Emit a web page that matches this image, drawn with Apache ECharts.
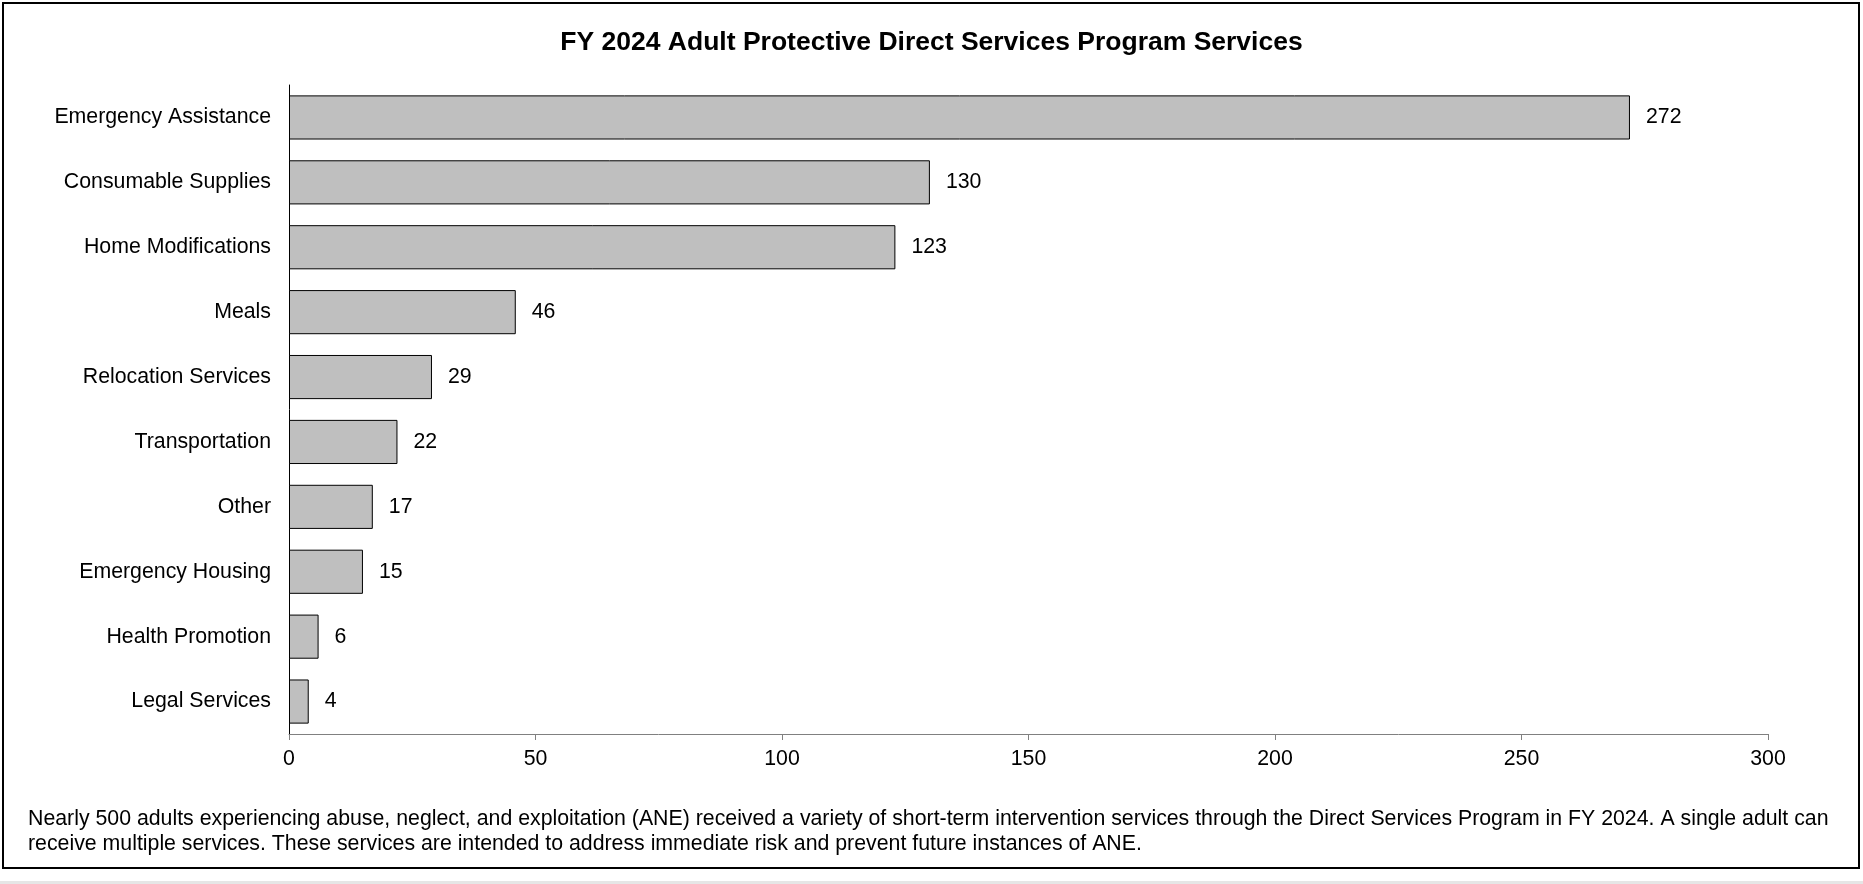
<!DOCTYPE html>
<html><head><meta charset="utf-8">
<script src="https://cdn.jsdelivr.net/npm/echarts@6/dist/echarts.min.js"></script>
<style>html,body{margin:0;padding:0;background:#fff}#c{width:1863px;height:884px}</style>
</head><body><div id="c"></div>
<script>
const categories = ["Emergency Assistance","Consumable Supplies","Home Modifications","Meals","Relocation Services","Transportation","Other","Emergency Housing","Health Promotion","Legal Services"];
const values = [272,130,123,46,29,22,17,15,6,4];
const xTicks = [0,50,100,150,200,250,300];
const titleText = "FY 2024 Adult Protective Direct Services Program Services";
const noteLines = ["Nearly 500 adults experiencing abuse, neglect, and exploitation (ANE) received a variety of short-term intervention services through the Direct Services Program in FY 2024. A single adult can",
"receive multiple services. These services are intended to address immediate risk and prevent future instances of ANE."];

const FONT = '"Liberation Sans", Arial, sans-serif';
const chart = echarts.init(document.getElementById('c'), null, {renderer:'canvas'});
chart.setOption({
  animation:false,
  backgroundColor:'#fff',
  title:{text:titleText,left:'center',top:24,textStyle:{fontFamily:FONT,fontSize:26.5,fontWeight:'bold',color:'#000'}},
  grid:{left:289,right:95,top:85,bottom:150,containLabel:false},
  xAxis:{type:'value',min:xTicks[0],max:xTicks[xTicks.length-1],interval:50,
    axisLine:{show:true,lineStyle:{color:'#808080',width:1}},
    axisTick:{show:true,length:6,lineStyle:{color:'#808080'}},
    axisLabel:{fontFamily:FONT,fontSize:21.3,color:'#000',margin:15},
    splitLine:{show:false}},
  yAxis:{type:'category',data:categories.slice().reverse(),inverse:false,
    axisLine:{show:true,lineStyle:{color:'#000',width:1}},
    axisTick:{show:false},
    axisLabel:{fontFamily:FONT,fontSize:21.3,color:'#000',margin:18}},
  series:[{type:'bar',data:values.slice().reverse(),barCategoryGap:'32%',
    itemStyle:{color:'#bfbfbf',borderColor:'#000',borderWidth:1},
    label:{show:true,position:'right',distance:16,fontFamily:FONT,fontSize:21.3,color:'#000'}}],
  graphic:[
    {type:'rect',shape:{x:3,y:3,width:1856,height:865},style:{fill:'none',stroke:'#000',lineWidth:2},silent:true},
    {type:'rect',shape:{x:0,y:881,width:1863,height:3},style:{fill:'#e6e6e6'},silent:true},
    {type:'text',left:28,top:807,style:{text:noteLines.join('\n'),font:'21.3px '+FONT,fill:'#000',lineHeight:24.5}}
  ]
});
</script></body></html>
